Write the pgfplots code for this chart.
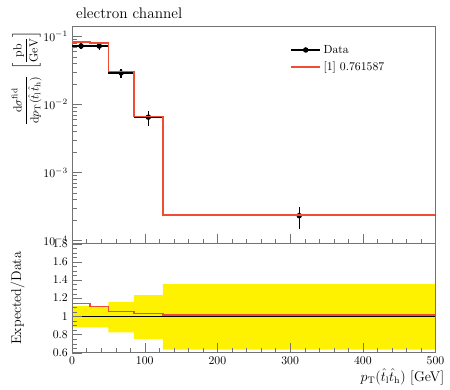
\documentclass[border=0pt]{standalone}
\usepackage{amsmath}
\usepackage{pgfplots}
\pgfplotsset{compat=1.18}
\definecolor{mcred}{rgb}{0.94,0.3,0.2}
\begin{document}
\begin{tikzpicture}
\pgfplotsset{
  every axis/.append style={
    scale only axis, width=309pt, xmin=0, xmax=500,
    axis line style={black!55}, tick style={black!55},
    major tick length=8.5pt, minor tick length=4.25pt,
    tick align=inside, xtick pos=bottom, ytick pos=left,
    tick label style={font=\normalsize},
    xtick={0,100,...,500}, minor x tick num=4,
    clip mode=individual,
  }
}
\begin{axis}[
  name=main, height=185pt,
  ymode=log, ymin=9e-5, ymax=0.142,
  ytick={1e-4,1e-3,1e-2,1e-1},
  xticklabels={},
  title={electron channel},
  title style={at={(axis description cs:0,1)}, anchor=base west, yshift=0.5pt, font=\fontsize{13}{15}\selectfont},
  ylabel={$\dfrac{\mathrm{d}\sigma^{\mathrm{fid}}}{\mathrm{d}p_{\mathrm{T}}(\hat{t}_{\mathrm{l}}\hat{t}_{\mathrm{h}})}\ \left[\dfrac{\mathrm{pb}}{\mathrm{GeV}}\right]$},
  ylabel style={at={(axis description cs:-0.125,0.995)}, anchor=east, font=\normalsize},
  legend style={draw=none, fill=none, at={(axis description cs:0.59,0.935)}, anchor=north west, font=\normalsize, row sep=2pt},
  legend cell align=left,
]
\addplot[black, line width=1pt, only marks, mark=*, mark size=1.8pt,
  legend image code/.code={\draw[black, line width=1pt] (0pt,0pt) -- (25pt,0pt); \fill[black] (12.5pt,0pt) circle (1.8pt);},
  error bars/.cd, x dir=both, x explicit, y dir=both, y explicit,
  error mark=none, error bar style={line width=1pt, black}]
  table[x=x, y=y, x error=xerr, y error=yerr] {
x y xerr yerr
12.5 0.0722 12.5 0.0080
37.5 0.0720 12.5 0.0080
67.5 0.0290 17.5 0.0046
105 0.0065 20 0.0016
312.5 0.000232 187.5 0.000082
};
\addlegendentry{Data}
\addplot[mcred, line width=1.3pt, const plot,
  legend image code/.code={\draw[mcred, line width=1.3pt] (0pt,0pt) -- (25pt,0pt);}] coordinates {
  (0,0.0826) (25,0.0798) (50,0.0307) (85,0.00667) (125,0.000236) (500,0.000236)
};
\addlegendentry{[1] 0.761587}
\end{axis}
\begin{axis}[
  at={(main.south west)}, anchor=north west, height=92.7pt,
  ymin=0.6, ymax=1.8, ytick={0.6,0.8,...,1.8}, minor y tick num=3,
  ylabel={Expected/Data},
  ylabel style={at={(axis description cs:-0.15,0.5)}, anchor=center, font=\large},
  xlabel={$p_{\mathrm{T}}(\hat{t}_{\mathrm{l}}\hat{t}_{\mathrm{h}})$ [GeV]},
  xlabel style={at={(axis description cs:1.035,0)}, anchor=base east, yshift=-24.5pt, font=\large},
  axis on top,
]
\addplot[fill=yellow, draw=none] coordinates {
  (0,1.112) (50,1.112) (50,1.16) (85,1.16) (85,1.233) (125,1.233) (125,1.356) (500,1.356)
  (500,0.633) (125,0.633) (125,0.753) (85,0.753) (85,0.825) (50,0.825) (50,0.88) (0,0.88)
} -- cycle;
\addplot[black, line width=0.7pt] coordinates {(0,1) (500,1)};
\addplot[mcred, line width=1.3pt, const plot] coordinates {
  (0,1.14) (25,1.11) (50,1.053) (85,1.03) (125,1.016) (500,1.016)
};
\end{axis}
\pgfresetboundingbox
\path[use as bounding box] (main.north west) ++(-61.2pt,22.1pt) rectangle ++(382.5pt,-331.5pt);
\end{tikzpicture}
\end{document}
